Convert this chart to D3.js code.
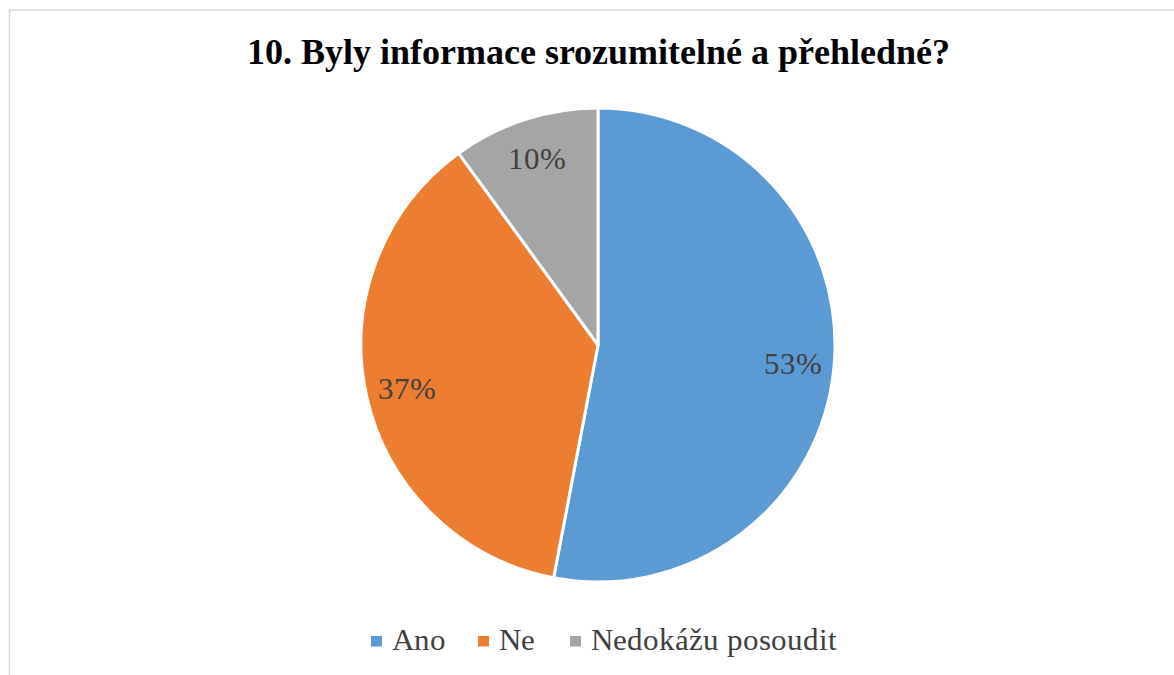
<!DOCTYPE html>
<html>
<head>
<meta charset="utf-8">
<script src="https://cdn.jsdelivr.net/npm/d3@7"></script>
<style>
  @font-face { font-family: "ChartSerif"; src: local("Liberation Serif"), local("LiberationSerif"), local("Liberation Serif Regular"), local("LiberationSerif-Regular"); font-weight: normal; }
  @font-face { font-family: "ChartSerif"; src: local("Liberation Serif Bold"), local("LiberationSerif-Bold"); font-weight: bold; }
</style>
</head>
<body style="margin:0">
<svg id="chart" width="1174" height="675"></svg>
<script>
const chartTitle = "10. Byly informace srozumitelné a přehledné?";
const categories = ["Ano", "Ne", "Nedokážu posoudit"];
const values = [53, 37, 10];
const colors = ["#5b9bd5", "#ed7d31", "#a5a5a5"];

const W = 1174, H = 675;
const FONT = "ChartSerif, 'Liberation Serif', Tinos, serif";
const svg = d3.select("#chart");

svg.append("rect")
  .attr("x", 9.5).attr("y", 10)
  .attr("width", W + 20).attr("height", H + 20)
  .attr("fill", "#fff")
  .attr("stroke", "#d9d9d9").attr("stroke-width", 1.5);

svg.append("text")
  .attr("x", 598).attr("y", 64)
  .attr("text-anchor", "middle")
  .style("font-family", FONT)
  .style("font-weight", "bold")
  .style("font-size", "36px")
  .attr("fill", "#000")
  .text(chartTitle);

const cx = 598, cy = 345, r = 237;
const pieData = categories.map((c, i) => ({ cat: c, value: values[i], color: colors[i] }));

const pie = d3.pie().value(d => d.value).sort(null);
const arcs = pie(pieData);
const arcGen = d3.arc().innerRadius(0).outerRadius(r);
const labelArc = d3.arc().innerRadius(196).outerRadius(196);

const g = svg.append("g").attr("transform", `translate(${cx},${cy})`);
g.selectAll("path.slice").data(arcs).enter().append("path")
  .attr("class", "slice")
  .attr("d", arcGen)
  .attr("fill", d => d.data.color)
  .attr("stroke", "#fff")
  .attr("stroke-width", 3)
  .attr("stroke-linejoin", "round");

g.selectAll("text.lbl").data(arcs).enter().append("text")
  .attr("class", "lbl")
  .attr("transform", d => `translate(${labelArc.centroid(d)})`)
  .attr("text-anchor", "middle")
  .attr("dy", "0.35em")
  .style("font-family", FONT)
  .style("font-size", "31px")
  .attr("fill", "#404040")
  .text(d => d.data.value + "%");

const legendX = [371, 478, 570];
const legendG = svg.append("g").attr("class", "legend");
const ly = 650;
categories.forEach((c, i) => {
  const gi = legendG.append("g").attr("transform", `translate(${legendX[i]},0)`);
  gi.append("rect").attr("x", 0).attr("y", ly - 14).attr("width", 11).attr("height", 10.5)
    .attr("fill", colors[i]);
  gi.append("text").attr("x", 21).attr("y", ly)
    .style("font-family", FONT).style("font-size", "31px").attr("fill", "#404040")
    .text(c);
});
</script>
</body>
</html>
